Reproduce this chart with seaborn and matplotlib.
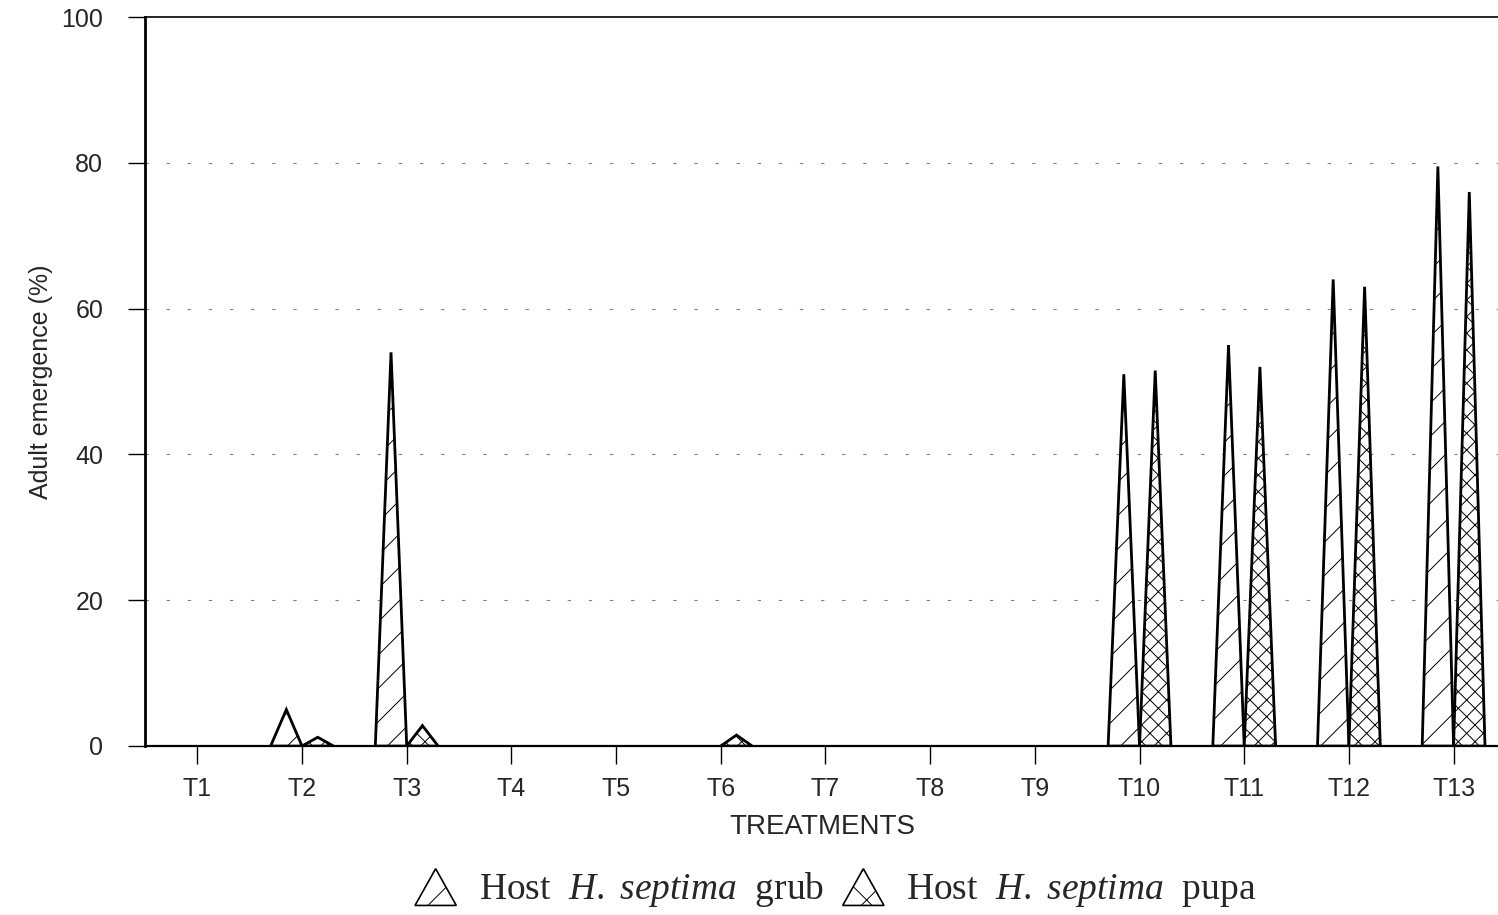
import numpy as np
import matplotlib.pyplot as plt
from matplotlib.patches import Polygon
from matplotlib.legend_handler import HandlerPatch
import seaborn as sns

# data
treatments = ['T1', 'T2', 'T3', 'T4', 'T5', 'T6', 'T7', 'T8', 'T9', 'T10', 'T11', 'T12', 'T13']
grub = [0, 5, 54, 0, 0, 0, 0, 0, 0, 51, 55, 64, 79.5]
pupa = [0, 1.2, 2.8, 0, 0, 1.5, 0, 0, 0, 51.5, 52, 63, 76]
y_ticks = [0, 20, 40, 60, 80, 100]

sns.set_theme(style='white')
plt.rcParams['font.family'] = ['Liberation Sans', 'DejaVu Sans']
plt.rcParams['hatch.linewidth'] = 0.7
plt.rcParams['mathtext.fontset'] = 'custom'
plt.rcParams['mathtext.rm'] = 'Liberation Serif'
plt.rcParams['mathtext.it'] = 'Liberation Serif:italic'

fig = plt.figure(figsize=(14.98, 9.15), dpi=100)
ax = fig.add_axes([0.0968, 0.1847, 0.905, 0.7967])

half = 0.15  # half width of one cone, in category units


def cone(x, h, hatch):
    if h <= 0:
        return
    pts = [(x - half, 0), (x, h), (x + half, 0)]
    ax.fill(*zip(*pts), facecolor='white', edgecolor='black', lw=2,
            hatch=hatch, zorder=3)


for i, (g, p) in enumerate(zip(grub, pupa)):
    cone(i - half, g, '/')
    cone(i + half, p, 'xx')

ax.set_xlim(-0.5, 12.45)
ax.set_ylim(0, 100)
ax.set_xticks(range(len(treatments)))
ax.set_xticklabels(treatments)
ax.set_yticks(y_ticks)
ax.tick_params(axis='both', direction='out', bottom=True, left=True,
               length=13, width=1, color='black', labelsize=18)
ax.tick_params(axis='x', pad=9)
ax.tick_params(axis='y', pad=18, length=12)

for y in y_ticks[1:-1]:
    ax.axhline(y, color='gray', lw=0.8, ls=(0, (3, 16)), zorder=1)

for s in ['left', 'bottom', 'top']:
    ax.spines[s].set_color('black')
ax.spines['left'].set_linewidth(2)
ax.spines['bottom'].set_linewidth(1.6)
ax.spines['top'].set_linewidth(1.2)
ax.spines['right'].set_visible(False)

ax.set_xlabel('TREATMENTS', fontsize=20, labelpad=10)
ax.set_ylabel('Adult emergence (%)', fontsize=18, labelpad=6)


def make_triangle(legend, orig_handle, xdescent, ydescent, width, height, fontsize):
    w = width
    h = height * 1.4
    return Polygon([(0, -0.25 * height), (w / 2, h - 0.25 * height), (w, -0.25 * height)],
                   closed=True)


h1 = Polygon([[0, 0]], facecolor='white', edgecolor='black', hatch='/', lw=1.2)
h2 = Polygon([[0, 0]], facecolor='white', edgecolor='black', hatch='x', lw=1.2)
fig.legend([h1, h2],
           [r'Host  $\it{H.\ septima}$  grub', r'Host  $\it{H.\ septima}$  pupa'],
           handler_map={Polygon: HandlerPatch(patch_func=make_triangle)},
           loc='center', bbox_to_anchor=(0.558, 0.028), ncol=2, frameon=False,
           prop={'family': 'Liberation Serif', 'size': 27},
           handlelength=1.1, handletextpad=0.6, columnspacing=0.5)

fig.savefig('out.png', dpi=100)
